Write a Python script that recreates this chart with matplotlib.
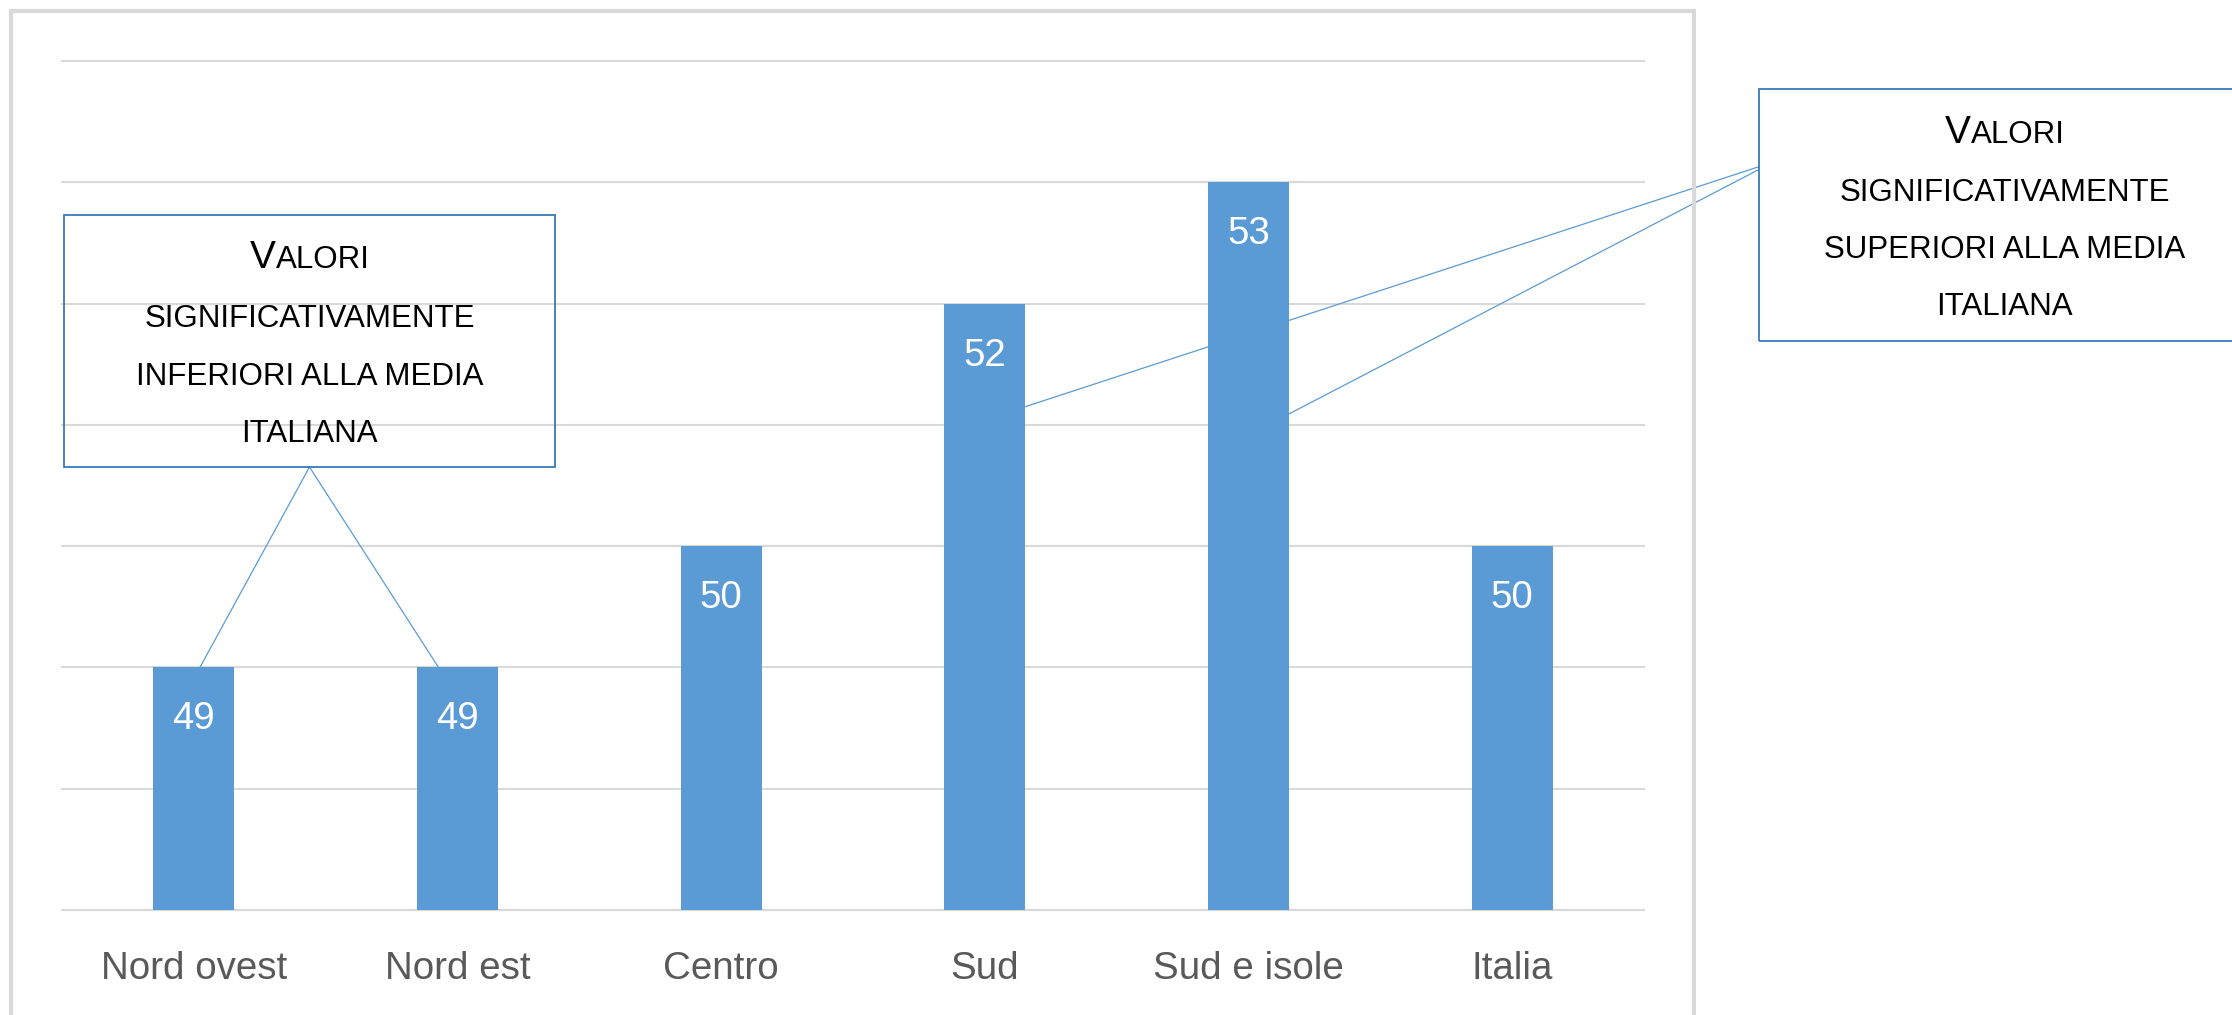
import matplotlib
matplotlib.use("Agg")
import matplotlib.pyplot as plt
from matplotlib.patches import Rectangle, ConnectionPatch
from matplotlib.transforms import IdentityTransform

# ---- data ----
categories = ["Nord ovest", "Nord est", "Centro", "Sud", "Sud e isole", "Italia"]
values = [49, 49, 50, 52, 53, 50]
y_min, y_max = 47, 54
grid_levels = list(range(47, 55))

left_callout_lines = ["ALORI", "SIGNIFICATIVAMENTE", "INFERIORI ALLA MEDIA", "ITALIANA"]
right_callout_lines = ["ALORI", "SIGNIFICATIVAMENTE", "SUPERIORI ALLA MEDIA", "ITALIANA"]
callout_initial = "V"
# callout leader targets (category index offset, value) for the marked bars
left_targets = [(0 + 0.023, 49), (1 - 0.072, 49)]
right_targets = [(3 + 0.1535, 51.15), (4 + 0.1535, 51.09)]

# ---- style ----
plt.rcParams['font.family'] = ['Liberation Sans', 'DejaVu Sans']
W, H = 2232, 1015
BAR = '#5B9BD5'
GRID = '#D9D9D9'
BOXC = '#3A78B8'

fig = plt.figure(figsize=(W / 100, H / 100), dpi=100)
fig.patch.set_facecolor('white')

ax = fig.add_axes([62 / W, (H - 910) / H, (1644 - 62) / W, (910 - 61) / H])
ax.set_xlim(-0.5, len(categories) - 0.5)
ax.set_ylim(y_min, y_max)
for s in ax.spines.values():
    s.set_visible(False)
ax.set_xticks([])
ax.set_yticks([])
ax.patch.set_alpha(0)

for g in grid_levels:
    ax.axhline(g, color=GRID, lw=1.5, zorder=0.5, clip_on=False)

x = list(range(len(categories)))
bw = 0.307
ax.bar(x, values, width=bw, color=BAR, zorder=2)

for i, v in enumerate(values):
    ax.annotate(str(v), xy=(i, v), xytext=(0, -62), textcoords='offset pixels',
                ha='center', va='baseline', color='white', fontsize=27.7, zorder=3)
    ax.annotate(categories[i], xy=(i, 0), xycoords=('data', 'axes fraction'),
                xytext=(0, -69), textcoords='offset pixels',
                ha='center', va='baseline', color='#595959', fontsize=27.7,
                annotation_clip=False)

# chart frame
fig.add_artist(Rectangle((11, -30), 1694 - 11, H - 11 + 30, fill=False,
                         ec=GRID, lw=3, transform=IdentityTransform()))

# callout boxes (transparent)
fig.add_artist(Rectangle((64, H - 467), 555 - 64, 467 - 215, fill=False,
                         ec=BOXC, lw=1.3, transform=IdentityTransform(), zorder=5))
fig.add_artist(Rectangle((1759, H - 340.7), 600, 340.7 - 89, fill=False,
                         ec=BOXC, lw=1.3, transform=IdentityTransform(), zorder=5))

# leader lines
for tx, ty in left_targets:
    con = ConnectionPatch(xyA=(309.5, H - 467), coordsA='figure pixels',
                          xyB=(tx, ty), coordsB='data', axesB=ax,
                          color=BAR, lw=0.9, zorder=1.5)
    ax.add_artist(con)
for (tx, ty), yb in zip(right_targets, [167, 170]):
    con = ConnectionPatch(xyA=(1758, H - yb), coordsA='figure pixels',
                          xyB=(tx, ty), coordsB='data', axesB=ax,
                          color=BAR, lw=0.9, zorder=1.5)
    ax.add_artist(con)

renderer = fig.canvas.get_renderer()


def small_caps_block(lines, cx, baselines):
    # first line: large initial + small caps
    y = H - baselines[0]
    t1 = fig.text(0, y, callout_initial, fontsize=28, transform=IdentityTransform(),
                  ha='left', va='baseline', color='black', zorder=6)
    t2 = fig.text(0, y, lines[0], fontsize=22.5, transform=IdentityTransform(),
                  ha='left', va='baseline', color='black', zorder=6)
    w1 = t1.get_window_extent(renderer).width
    w2 = t2.get_window_extent(renderer).width
    start = cx - (w1 + w2) / 2
    t1.set_x(start)
    t2.set_x(start + w1)
    for line, b in zip(lines[1:], baselines[1:]):
        fig.text(cx, H - b, line, fontsize=22.5, transform=IdentityTransform(),
                 ha='center', va='baseline', color='black', zorder=6)


small_caps_block(left_callout_lines, 309.5, [268, 327, 385, 442])
small_caps_block(right_callout_lines, 2004.6, [143, 200.7, 258, 315])

fig.savefig('out.png', dpi=100, facecolor='white')
